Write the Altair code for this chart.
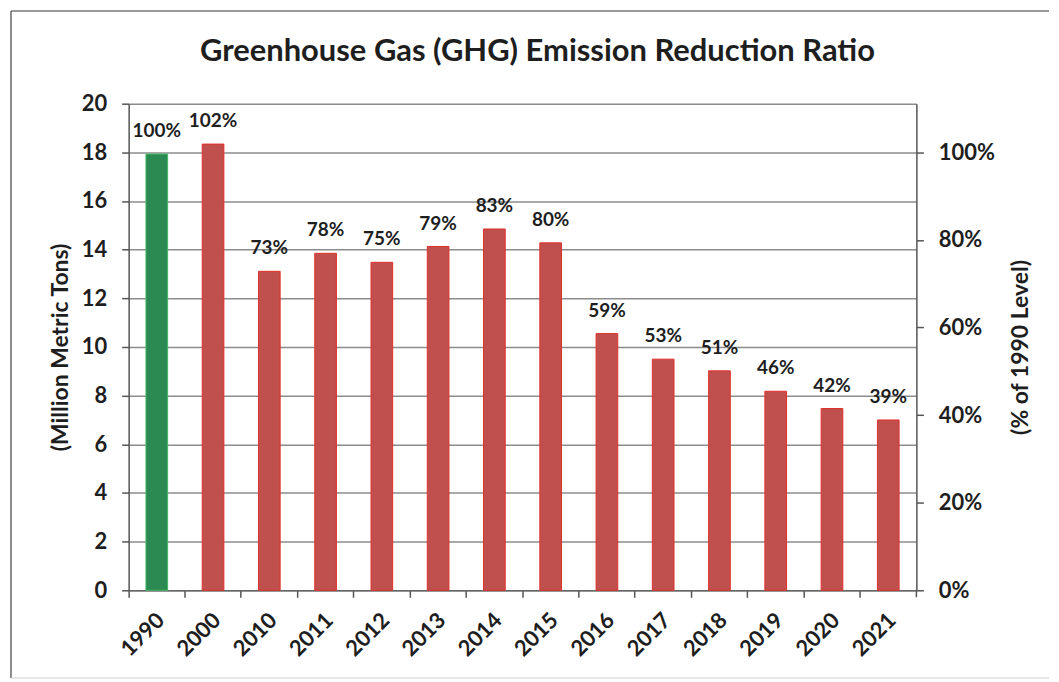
import altair as alt
import pandas as pd

years = ["1990", "2000", "2010", "2011", "2012", "2013", "2014",
         "2015", "2016", "2017", "2018", "2019", "2020", "2021"]
emissions = [17.93, 18.34, 13.11, 13.85, 13.48, 14.13, 14.85,
             14.28, 10.55, 9.50, 9.02, 8.18, 7.47, 7.00]
pct_values = [100, 102, 73, 78, 75, 79, 83, 80, 59, 53, 51, 46, 42, 39]
pct_labels = ["100%", "102%", "73%", "78%", "75%", "79%", "83%",
              "80%", "59%", "53%", "51%", "46%", "42%", "39%"]
groups = ["Baseline"] + ["Later"] * 13
title_text = ["Greenhouse Gas (GHG) Emission Reduction Ratio"]

df = pd.DataFrame({
    "year": years,
    "mt": emissions,
    "pct": pct_values,
    "label": pct_labels,
    "grp": groups,
})
df_title = pd.DataFrame({"t": title_text})

FONT = "Lato"
TXT = "#1e1e1e"

x_enc = alt.X(
    "year:N", sort=years,
    scale=alt.Scale(paddingInner=0, paddingOuter=0),
    axis=alt.Axis(
        title=None, labelAngle=-45, labelAlign="right", labelBaseline="middle",
        bandPosition=0, labelOffset=4, labelPadding=19,
        tickSize=7, tickColor="#555", tickWidth=1.5,
        domainColor="#666", domainWidth=1.5, grid=False,
        labelFont=FONT, labelFontSize=22, labelFontWeight="bold", labelColor=TXT,
    ),
)

y_left = alt.Y(
    "mt:Q",
    scale=alt.Scale(domain=[0, 20], nice=False),
    axis=alt.Axis(
        orient="left",
        values=list(range(0, 21, 2)), grid=True, gridColor="#8c8c8c", gridWidth=1.5,
        tickSize=7, tickColor="#555", tickWidth=1.5, domainColor="#555", domainWidth=1.5,
        labelFont=FONT, labelFontSize=22, labelFontWeight="bold", labelColor=TXT,
        labelPadding=15,
        title="(Million Metric Tons)", titleFont=FONT, titleFontSize=23,
        titleFontWeight="bold", titleColor=TXT, titlePadding=9,
    ),
)

base = alt.Chart(df)

bars = base.mark_bar(width=alt.RelativeBandSize(0.385), strokeWidth=1).encode(
    x=x_enc,
    y=y_left,
    color=alt.Color("grp:N", scale=alt.Scale(domain=["Baseline", "Later"],
                                             range=["#2b8a52", "#c0504d"]), legend=None),
    stroke=alt.Stroke("grp:N", scale=alt.Scale(domain=["Baseline", "Later"],
                                               range=["#44b865", "#e0302b"]), legend=None),
)

labels = base.mark_text(
    dy=-23, baseline="middle", align="center",
    font=FONT, fontSize=19, fontWeight="bold", color=TXT,
).encode(
    x=x_enc,
    y=y_left,
    text="label:N",
)

right = base.mark_point(opacity=0).encode(
    x=x_enc,
    y=alt.Y(
        "pct:Q",
        scale=alt.Scale(domain=[0, 111.11], nice=False, zero=True),
        axis=alt.Axis(
            orient="right", values=[0, 20, 40, 60, 80, 100], labelExpr="datum.value + '%'",
            grid=False, tickSize=7, tickColor="#555", tickWidth=1.5,
            domainColor="#555", domainWidth=1.5,
            labelFont=FONT, labelFontSize=22, labelFontWeight="bold", labelColor=TXT,
            labelPadding=15,
            title="(% of 1990 Level)", titleAngle=270, titleFont=FONT, titleFontSize=23,
            titleFontWeight="bold", titleColor=TXT, titlePadding=38,
        ),
    ),
)

title_mark = alt.Chart(df_title).mark_text(
    font=FONT, fontSize=31, fontWeight="bold", color=TXT,
    align="center", baseline="alphabetic",
).encode(x=alt.value(410), y=alt.value(-43), text="t:N")

# decorative frame lines and closing x tick
end_tick = alt.Chart(df_title).mark_rule(color="#555", strokeWidth=1.5).encode(
    x=alt.value(790), y=alt.value(488), y2=alt.value(495))
frame_top = alt.Chart(df_title).mark_rule(color="#777", strokeWidth=1.5).encode(
    x=alt.value(-118), x2=alt.value(923), y=alt.value(-93))
frame_left = alt.Chart(df_title).mark_rule(color="#666", strokeWidth=1.5).encode(
    x=alt.value(-118), y=alt.value(-93), y2=alt.value(576))
frame_bottom = alt.Chart(df_title).mark_rule(color="#cfcfcf", strokeWidth=1).encode(
    x=alt.value(-118), x2=alt.value(923), y=alt.value(576))

chart = alt.layer(
    alt.layer(bars, labels),
    right,
    title_mark, end_tick, frame_top, frame_left, frame_bottom,
).resolve_scale(y="independent").properties(
    width=790, height=488,
    autosize=alt.AutoSizeParams(type="none"),
    padding={"left": 121, "top": 95, "right": 135, "bottom": 89},
    background="white",
).configure_view(strokeWidth=0)

chart.save("out.html", embed_options={"renderer": "svg", "actions": False})
